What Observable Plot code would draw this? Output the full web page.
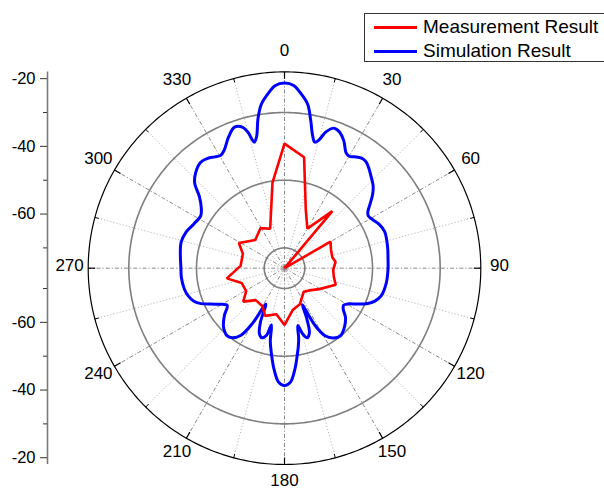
<!DOCTYPE html>
<html>
<head>
<meta charset="utf-8">
<script src="https://cdn.jsdelivr.net/npm/d3@7"></script>
<script src="https://cdn.jsdelivr.net/npm/@observablehq/plot@0.6"></script>
<style>
  html, body { margin: 0; padding: 0; background: #fff; }
  #wrap { position: relative; width: 604px; height: 490px; overflow: hidden; font-family: Arial, "Liberation Sans", sans-serif; }
  #legend { position: absolute; left: 364px; top: 13px; width: 260px; height: 47px; border: 1px solid #333; background: #fff; }
  .row { position: absolute; left: 0; height: 24px; display: flex; align-items: center; font-size: 19px; color: #000; white-space: nowrap; }
  .sw { width: 43px; height: 3px; margin-left: 9px; margin-right: 6px; }
</style>
</head>
<body>
<div id="wrap">
  <div id="chart"></div>
  <div id="legend">
    <div class="row" style="top:1px"><div class="sw" style="background:#ff0000"></div>Measurement Result</div>
    <div class="row" style="top:25px"><div class="sw" style="background:#0000ff"></div>Simulation Result</div>
  </div>
</div>
<script>
// ---- radial scale (dB) ----
const rMin = -76, rMax = -18;
const radialMajor = [-20, -40, -60];
const radialMinor = [-30, -50, -70];
const gridCircles = [-30, -50, -70];
// ---- angular ticks ----
const angleTicks = [0, 30, 60, 90, 120, 150, 180, 210, 240, 270, 300, 330];
const angleMinor = [15, 45, 75, 105, 135, 165, 195, 225, 255, 285, 315, 345];

// ---- Simulation Result ----
const simAngle = [0,3,5,8,10,12,13.5,15,17,19.5,22,25,28,30,32,35,37.5,40,43,47,50,53,56,58,61,65,70,75,80,85,90,98,106,110,113,116,119,122,125,129,134,140,145,149,152,154,156,159,162,164.5,167,168.5,170,171.5,174,177,
  180,183,186,189,191,193,195,198,201,204,207.5,210,213,217,220.5,224,227,232,237,241,244,247,250,254,258,265,270,277,284,290,296,302,306,310,313.5,317,321.5,325,328,330.5,333,337,340.5,343.5,345,346.5,348,350,352,355,357];
const simValue = [-21.3,-22.0,-23.8,-27.0,-31.5,-36.0,-37.7,-36.8,-33.8,-32.1,-32.6,-34.5,-37.3,-37.8,-37.2,-36.3,-36.4,-37.3,-38.6,-40.2,-42.0,-44.3,-46.3,-46.8,-46.3,-45.2,-44.5,-44.7,-45.0,-45.3,-45.4,-45.6,-46.3,-47.6,-49.3,-51.8,-54.3,-55.4,-54.8,-52.8,-51.3,-50.1,-50.8,-52.7,-57.0,-64.0,-60.0,-55.5,-54.4,-55.8,-58.6,-55.0,-52.5,-50.3,-46.2,-42.3,
  -41.3,-42.3,-46.1,-50.9,-54.0,-58.8,-55.5,-54.4,-55.3,-58.5,-64.0,-57.5,-52.4,-50.3,-49.8,-50.4,-51.3,-53.5,-55.8,-54.0,-51.8,-49.2,-47.5,-46.4,-45.8,-45.4,-45.4,-45.0,-44.5,-45.0,-46.2,-46.8,-45.6,-43.2,-39.4,-37.5,-36.1,-36.4,-37.2,-37.7,-36.8,-33.8,-31.8,-32.6,-34.5,-37.7,-36.3,-31.0,-27.0,-23.8,-22.0];

// ---- Measurement Result ----
const measAngle = [0,10,20,30,40,50,60,68,77,83,92,100,108,121,132,141,157,169,180,190,202,210,222,231,239,251,260,273,289,299,314,329,340,352];
const measValue = [-39.2,-42.7,-57.6,-62.5,-54.0,-76,-60.3,-61.2,-61.5,-60.8,-61.6,-61.2,-60.1,-64.0,-66.2,-67.0,-64.4,-63.4,-59.2,-62.2,-60.8,-63.0,-63.3,-60.3,-62.8,-62.6,-58.7,-63.0,-63.0,-60.6,-64.0,-62.2,-63.6,-50.5];

// polar -> cartesian (data units), angle clockwise from top
const R = rMax - rMin;
const rad = a => a * Math.PI / 180;
const pt = (a, v) => { const d = Math.max(0, v - rMin); return {x: d * Math.sin(rad(a)), y: d * Math.cos(rad(a))}; };

const sim = simAngle.map((a, i) => pt(a, simValue[i]));
const meas = measAngle.map((a, i) => pt(a, measValue[i]));

const circleSteps = d3.range(0, 360, 1);
const circles = gridCircles.flatMap(v => circleSteps.map(a => ({...pt(a, v), v})));
const outer = circleSteps.map(a => pt(a, rMax));

const spokes = (list) => list.map(a => ({a, x1: 0, y1: 0, x2: R * Math.sin(rad(a)), y2: R * Math.cos(rad(a))}));
const ticksOut = (list, len) => list.map(a => ({x1: R * Math.sin(rad(a)), y1: R * Math.cos(rad(a)), x2: (R - len) * Math.sin(rad(a)), y2: (R - len) * Math.cos(rad(a))}));
const labelR = R + 5.5;
const angleLabels = angleTicks.map(a => ({text: String(a), x: labelR * Math.sin(rad(a)), y: labelR * Math.cos(rad(a))}));

// layout
const W = 604, H = 490, mT = 71.4, mB = 26, mL = 47, cx = 284;
const k = (H - mT - mB) / (2 * R);
const xDomain = [-(cx - mL) / k, (W - cx) / k];

const dOf = v => v - rMin;
const majorD = radialMajor.flatMap(v => [dOf(v), -dOf(v)]);
const minorD = radialMinor.flatMap(v => [dOf(v), -dOf(v)]);

const chart = Plot.plot({
  width: W, height: H,
  marginTop: mT, marginBottom: mB, marginLeft: mL, marginRight: 0,
  x: {domain: xDomain, axis: null},
  y: {domain: [-R, R]},
  style: {fontFamily: "Arial, 'Liberation Sans', sans-serif", fontSize: "16.5px", background: "#fff"},
  marks: [
    // spokes
    Plot.link(spokes(angleMinor), {x1: "x1", y1: "y1", x2: "x2", y2: "y2", stroke: "#b8b8b8", strokeWidth: 1, strokeDasharray: "1.2,2"}),
    Plot.link(spokes(angleTicks), {x1: "x1", y1: "y1", x2: "x2", y2: "y2", stroke: "#8a8a8a", strokeWidth: 1, strokeDasharray: "4,2,1.2,2"}),
    // grid circles
    Plot.line(circles, {x: "x", y: "y", z: "v", curve: "linear-closed", stroke: "#7f7f7f", strokeWidth: 1.6}),
    Plot.line(outer, {x: "x", y: "y", curve: "linear-closed", stroke: "#000", strokeWidth: 1.2}),
    // outer ticks
    Plot.link(ticksOut(angleTicks, 7 / k), {x1: "x1", y1: "y1", x2: "x2", y2: "y2", stroke: "#000", strokeWidth: 1.2}),
    Plot.link(ticksOut(angleMinor, 4 / k), {x1: "x1", y1: "y1", x2: "x2", y2: "y2", stroke: "#000", strokeWidth: 1}),
    // angle labels
    Plot.text(angleLabels, {x: "x", y: "y", text: "text", fontSize: 17, fill: "#000", textAnchor: "middle", lineAnchor: "middle", dy: -2.5}),
    // data
    Plot.line(sim, {x: "x", y: "y", curve: "catmull-rom-closed", stroke: "#0000ff", strokeWidth: 3, strokeLinejoin: "round"}),
    Plot.line(meas, {x: "x", y: "y", curve: "linear-closed", stroke: "#ff0000", strokeWidth: 2.6, strokeLinejoin: "miter"}),
    // radial axis on the left
    Plot.ruleX([xDomain[0]], {y1: -R, y2: R, stroke: "#7a7a7a", strokeWidth: 1.6}),
    Plot.axisY(majorD, {anchor: "left", tickSize: 7, tickPadding: 5, label: null, stroke: "#333", fill: "#000",
      tickFormat: d => String(rMin + Math.abs(d)), fontSize: 16.5}),
    Plot.axisY(minorD, {anchor: "left", tickSize: 4, label: null, stroke: "#333", tickFormat: () => ""})
  ]
});
document.getElementById("chart").appendChild(chart);
</script>
</body>
</html>
